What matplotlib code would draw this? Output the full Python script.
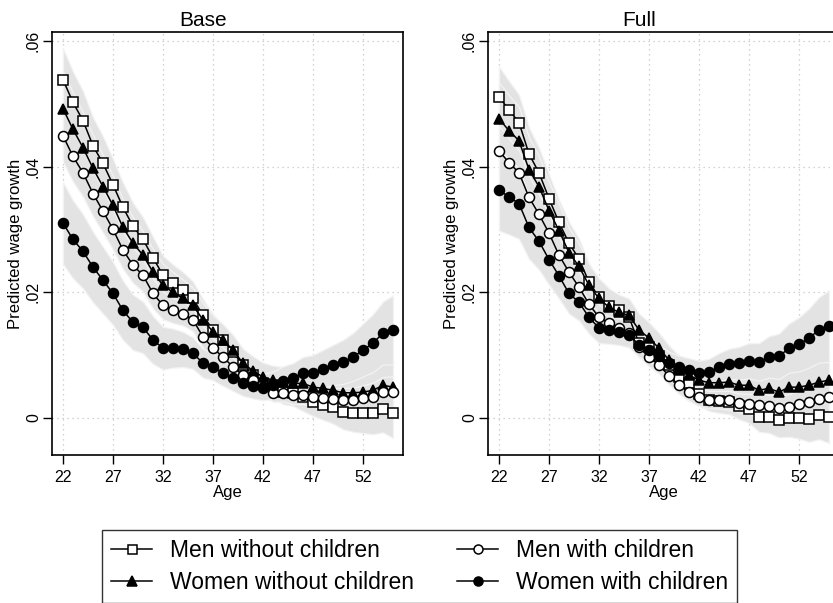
import matplotlib.pyplot as plt
import numpy as np

plt.rcParams['font.family'] = ['Liberation Sans', 'DejaVu Sans']

ages = list(range(22, 56))

# Base model: predicted wage growth by age
base_men_nokids = [.0538, .0502, .0473, .0433, .0405, .0371, .0335, .0305, .0284, .0255,
                   .0227, .0215, .0204, .0190, .0163, .0140, .0124, .0105, .0084, .0068,
                   .0056, .0052, .0042, .0040, .0033, .0026, .0021, .0017, .0010, .0008,
                   .0008, .0008, .0014, .0008]
base_women_nokids = [.0492, .0459, .0430, .0397, .0368, .0338, .0303, .0278, .0259, .0232,
                     .0211, .0200, .0190, .0179, .0156, .0137, .0124, .0108, .0087, .0075,
                     .0065, .0060, .0057, .0055, .0055, .0049, .0047, .0044, .0040, .0040,
                     .0041, .0044, .0052, .0049]
base_men_kids = [.0449, .0416, .0390, .0357, .0329, .0300, .0267, .0243, .0227, .0198,
                 .0179, .0171, .0166, .0156, .0129, .0111, .0097, .0081, .0068, .0060,
                 .0047, .0040, .0040, .0037, .0037, .0034, .0031, .0030, .0029, .0028,
                 .0031, .0034, .0042, .0042]
base_women_kids = [.0310, .0284, .0265, .0240, .0219, .0198, .0171, .0152, .0144, .0124,
                   .0111, .0111, .0109, .0103, .0087, .0081, .0071, .0063, .0055, .0051,
                   .0049, .0052, .0059, .0063, .0071, .0072, .0078, .0084, .0089, .0097,
                   .0108, .0119, .0135, .0140]

# Full model
full_men_nokids = [.0511, .0490, .0470, .0420, .0390, .0349, .0311, .0278, .0253, .0216,
                   .0192, .0178, .0171, .0160, .0119, .0113, .0098, .0084, .0065, .0055,
                   .0038, .0029, .0027, .0026, .0019, .0014, .0002, .0002, -.0003, .0000,
                   .0000, -.0002, .0005, .0002]
full_women_nokids = [.0476, .0457, .0441, .0395, .0368, .0330, .0298, .0263, .0241, .0211,
                     .0190, .0176, .0168, .0163, .0140, .0127, .0111, .0092, .0076, .0068,
                     .0060, .0056, .0056, .0057, .0052, .0052, .0044, .0047, .0041, .0049,
                     .0049, .0052, .0057, .0060]
full_men_kids = [.0425, .0406, .0390, .0351, .0324, .0294, .0259, .0232, .0208, .0181,
                 .0160, .0151, .0143, .0135, .0113, .0097, .0084, .0067, .0052, .0041,
                 .0033, .0029, .0029, .0028, .0024, .0022, .0021, .0019, .0016, .0018,
                 .0022, .0026, .0030, .0033]
full_women_kids = [.0362, .0352, .0341, .0303, .0281, .0252, .0226, .0198, .0184, .0160,
                   .0143, .0140, .0137, .0132, .0116, .0108, .0098, .0087, .0081, .0076,
                   .0071, .0073, .0081, .0086, .0087, .0091, .0089, .0097, .0098, .0111,
                   .0117, .0127, .0140, .0146]

# half widths of the confidence bands
base_hw_men_nokids = [.0050, .0049, .0047, .0045, .0043, .0041, .0039, .0037, .0035, .0033,
                      .0031, .0029, .0028, .0027, .0026, .0025, .0024, .0023, .0022, .0021,
                      .0020, .0020, .0020, .0021, .0022, .0023, .0024, .0026, .0028, .0030,
                      .0032, .0034, .0037, .0040]
base_hw_women_nokids = [.0060, .0058, .0056, .0053, .0050, .0047, .0044, .0041, .0038, .0036,
                        .0034, .0032, .0030, .0028, .0027, .0026, .0025, .0024, .0023, .0023,
                        .0023, .0023, .0024, .0025, .0026, .0027, .0028, .0030, .0032, .0034,
                        .0036, .0038, .0040, .0042]
base_hw_men_kids = [.0042, .0040, .0038, .0036, .0034, .0032, .0030, .0028, .0026, .0024,
                    .0022, .0020, .0019, .0018, .0017, .0016, .0015, .0014, .0014, .0014,
                    .0014, .0014, .0014, .0015, .0015, .0016, .0017, .0018, .0019, .0020,
                    .0021, .0022, .0023, .0024]
base_hw_women_kids = [.0065, .0062, .0059, .0056, .0053, .0050, .0047, .0044, .0041, .0038,
                      .0034, .0031, .0028, .0025, .0023, .0021, .0020, .0020, .0020, .0020,
                      .0021, .0022, .0023, .0024, .0026, .0028, .0030, .0032, .0035, .0038,
                      .0042, .0046, .0050, .0055]
full_hw_men_nokids = [.0048, .0046, .0044, .0042, .0040, .0038, .0036, .0034, .0032, .0030,
                      .0028, .0026, .0025, .0024, .0023, .0022, .0021, .0020, .0019, .0018,
                      .0018, .0018, .0019, .0020, .0021, .0022, .0024, .0026, .0028, .0030,
                      .0033, .0036, .0039, .0042]
full_hw_women_nokids = [.0058, .0056, .0054, .0051, .0048, .0045, .0042, .0039, .0036, .0034,
                        .0032, .0030, .0028, .0027, .0026, .0025, .0024, .0023, .0023, .0023,
                        .0023, .0023, .0024, .0025, .0026, .0027, .0028, .0030, .0032, .0034,
                        .0036, .0038, .0040, .0042]
full_hw_men_kids = [.0040, .0038, .0036, .0034, .0032, .0030, .0028, .0026, .0024, .0022,
                    .0020, .0019, .0018, .0017, .0016, .0015, .0014, .0014, .0014, .0014,
                    .0014, .0014, .0014, .0015, .0015, .0016, .0017, .0018, .0019, .0020,
                    .0021, .0022, .0023, .0024]
full_hw_women_kids = [.0064, .0060, .0056, .0050, .0045, .0040, .0036, .0032, .0029, .0026,
                      .0024, .0022, .0021, .0020, .0019, .0018, .0018, .0018, .0018, .0019,
                      .0020, .0021, .0022, .0024, .0026, .0028, .0030, .0033, .0036, .0039,
                      .0043, .0047, .0052, .0057]

labels = ["Men without children", "Women without children",
          "Men with children", "Women with children"]
markers = ["s", "^", "o", "o"]
faces = ["white", "black", "white", "black"]

panels = [
    ("Base", [base_men_nokids, base_women_nokids, base_men_kids, base_women_kids],
     [base_hw_men_nokids, base_hw_women_nokids, base_hw_men_kids, base_hw_women_kids]),
    ("Full", [full_men_nokids, full_women_nokids, full_men_kids, full_women_kids],
     [full_hw_men_nokids, full_hw_women_nokids, full_hw_men_kids, full_hw_women_kids]),
]

fig = plt.figure(figsize=(8.33, 6.03), dpi=100)
ax_left = [52 / 833, 488 / 833]
handles = []

for i, (title, series, widths) in enumerate(panels):
    ax = fig.add_axes([ax_left[i], 1 - 455 / 603, 351 / 833, 423 / 603])
    x = np.array(ages)

    # confidence bands first, then the lines on top
    for vals, hw in zip(series, widths):
        v = np.array(vals)
        h = np.array(hw)
        ax.fill_between(x, v - h, v + h, facecolor="#e3e3e3", edgecolor="#f3f3f3",
                        linewidth=0.9, zorder=1)

    for k, vals in enumerate(series):
        ms = 7.8 if markers[k] == "^" else 7.2
        ln, = ax.plot(x, vals, color="black", lw=1.1, marker=markers[k], ms=ms,
                      mfc=faces[k], mec="black", mew=1.1, zorder=3, label=labels[k])
        if i == 0:
            handles.append(ln)

    ax.set_xlim(20.9, 56.0)
    ax.set_ylim(-0.0059, 0.0614)
    ax.set_xticks(range(22, 56, 5))
    ax.set_yticks([0, 0.02, 0.04, 0.06])
    ax.set_yticklabels(["0", ".02", ".04", ".06"], rotation=90, va="center")
    ax.tick_params(axis="both", labelsize=11.5, length=6.5, width=1, direction="out",
                   colors="black")
    ax.tick_params(axis="x", pad=4.5)
    ax.tick_params(axis="y", pad=1.5)
    ax.grid(True, linestyle=(0, (1, 3)), color="#c4c4c4", linewidth=0.9, zorder=0)
    ax.set_axisbelow(True)
    for sp in ax.spines.values():
        sp.set_linewidth(1.2)
        sp.set_color("black")
    ax.set_xlabel("Age", fontsize=12, labelpad=0)
    ax.set_ylabel("Predicted wage growth", fontsize=12, labelpad=2)
    ax.set_title(title, fontsize=15, x=0.43, pad=4)

leg = fig.legend(handles=handles, labels=labels,
                 ncol=2, loc="upper left", bbox_to_anchor=(102 / 833, 1 - 530 / 603),
                 fontsize=16.5, frameon=True, fancybox=False, markerscale=0.9,
                 handlelength=1.8, columnspacing=1.9, labelspacing=0.38,
                 borderpad=0.4, borderaxespad=0, handletextpad=0.75)
leg.get_frame().set_edgecolor("black")
leg.get_frame().set_linewidth(1.0)

fig.savefig("out.png", dpi=100)
